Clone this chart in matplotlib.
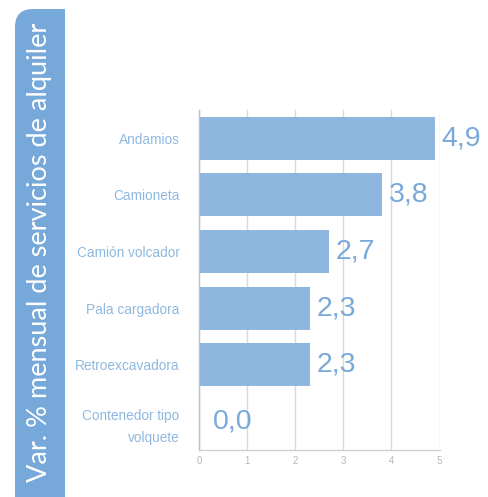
import matplotlib
matplotlib.use("Agg")
import matplotlib.pyplot as plt
from matplotlib.patches import FancyBboxPatch, Rectangle

categories = ["Andamios", "Camioneta", "Camión volcador", "Pala cargadora",
              "Retroexcavadora", "Contenedor tipo\nvolquete"]
values = [4.9, 3.8, 2.7, 2.3, 2.3, 0.0]
value_labels = ["4,9", "3,8", "2,7", "2,3", "2,3", "0,0"]
xticks = [0, 1, 2, 3, 4, 5]
ylabel = "Var. % mensual de servicios de alquiler"

bar_color = "#8DB7DF"
label_color = "#79A9DA"
cat_color = "#8FB8E0"
band_color = "#76A8DA"

W, H = 488, 497
fig = plt.figure(figsize=(W / 100, H / 100), dpi=100)

# Left band with rounded top-left corner
r = 18
band = FancyBboxPatch((15, -40), 50, (H - 9) + 40, boxstyle=f"round,pad=0,rounding_size={r}",
                      transform=None, facecolor=band_color, edgecolor="none")
fig.patches.append(band)
fig.patches.append(Rectangle((40, -40), 25, H - 9 + 40, transform=None,
                             facecolor=band_color, edgecolor="none"))
fig.text(40 / W, 1 - 252 / H, ylabel, rotation=90, color="white",
         fontsize=19.5, family="Lato", ha="center", va="center")

ax = fig.add_axes([199 / W, 1 - 449.5 / H, (439.5 - 199) / W, (449.5 - 110) / H])
y = list(range(len(categories)))
ax.barh(y, values, height=0.76, color=bar_color, zorder=2)
for yi, v, lab in zip(y, values, value_labels):
    ax.annotate(lab, (v, yi), xytext=(5 if v > 0 else 10, 0), textcoords="offset points",
                va="center", ha="left", fontsize=20.5, color=label_color,
                family="Liberation Sans", zorder=3)

ax.set_xlim(0, 5)
ax.set_ylim(len(categories) - 0.5, -0.5)
ax.set_xticks(xticks)
ax.set_xticklabels([str(t) for t in xticks], fontsize=7, color="#B5B5B5",
                   family="Liberation Sans")
ax.set_yticks(y)
ax.set_yticklabels(categories, fontsize=9.8, color=cat_color, family="Liberation Sans",
                   linespacing=1.75)
ax.tick_params(axis="y", length=0, pad=14)
ax.tick_params(axis="x", length=0, pad=5)
ax.grid(axis="x", color="#D9D9D9", linewidth=1.0, zorder=0)
for s in ["top", "right"]:
    ax.spines[s].set_visible(False)
ax.spines["left"].set_color("#BFBFBF")
ax.spines["bottom"].set_color("#D0D0D0")
ax.spines["left"].set_linewidth(1.0)
ax.spines["bottom"].set_linewidth(1.0)

fig.savefig("out.png", dpi=100)
